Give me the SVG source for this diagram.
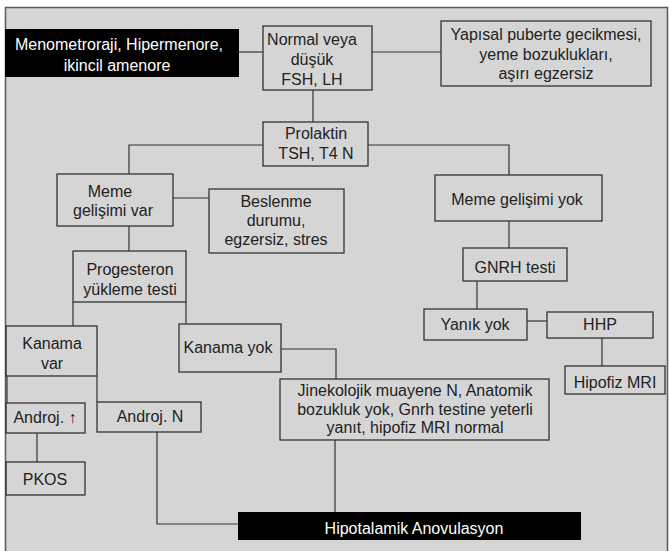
<svg xmlns="http://www.w3.org/2000/svg" width="669" height="551" viewBox="0 0 669 551">
<style>
.bg{fill:#d5d5d5;stroke:#5a5a5a;stroke-width:1.5}
.box{fill:none;stroke:#333;stroke-width:1.3}
.dark{fill:#000;stroke:none}
.t{font-family:"Liberation Sans",Arial,Helvetica,sans-serif;font-size:16px;fill:#222;text-anchor:middle}
.w{fill:#fff}
.c{fill:none;stroke:#333;stroke-width:1.2}
</style>
<rect x="0" y="0" width="669" height="551" fill="#fff"/>
<rect class="bg" x="5.5" y="7.5" width="662" height="545"/>
<g id="connectors">
<path class="c" d="M239 52H263"/>
<path class="c" d="M372 52H441"/>
<path class="c" d="M313 90V122"/>
<path class="c" d="M263 145H129V174"/>
<path class="c" d="M368 145H509V175"/>
<path class="c" d="M173 198H209"/>
<path class="c" d="M129 226V251"/>
<path class="c" d="M73 302V326"/>
<path class="c" d="M186 302V324"/>
<path class="c" d="M7 376V403"/>
<path class="c" d="M97 376V402"/>
<path class="c" d="M37 433V462"/>
<path class="c" d="M157 432V524H238"/>
<path class="c" d="M281 349H336V379"/>
<path class="c" d="M335 440V512"/>
<path class="c" d="M509 221V248"/>
<path class="c" d="M477 281V309"/>
<path class="c" d="M527 321H547"/>
<path class="c" d="M602 338V366"/>
</g>
<g id="menometroraji">
<rect class="dark" x="5" y="29" width="234" height="48"/>
<text class="t w" x="119" y="50">Menometroraji, Hipermenore,</text>
<text class="t w" x="117" y="71">ikincil amenore</text>
</g>
<g id="normal">
<rect class="box" x="263" y="26" width="109" height="64"/>
<text class="t" x="312" y="45">Normal veya</text>
<text class="t" x="312" y="65">düşük</text>
<text class="t" x="312" y="85">FSH, LH</text>
</g>
<g id="yapisal">
<rect class="box" x="441" y="21" width="210" height="65"/>
<text class="t" x="546" y="40">Yapısal puberte gecikmesi,</text>
<text class="t" x="546" y="60">yeme bozuklukları,</text>
<text class="t" x="546" y="79">aşırı egzersiz</text>
</g>
<g id="prolaktin">
<rect class="box" x="263" y="122" width="105" height="44"/>
<text class="t" x="316" y="139">Prolaktin</text>
<text class="t" x="316" y="158.5">TSH, T4 N</text>
</g>
<g id="meme-var">
<rect class="box" x="57" y="174" width="116" height="52"/>
<text class="t" x="110" y="197">Meme</text>
<text class="t" x="113" y="216">gelişimi var</text>
</g>
<g id="beslenme">
<rect class="box" x="209" y="189" width="135" height="64"/>
<text class="t" x="276" y="207">Beslenme</text>
<text class="t" x="276" y="226">durumu,</text>
<text class="t" x="276" y="245">egzersiz, stres</text>
</g>
<g id="progesteron">
<rect class="box" x="73" y="251" width="113" height="51"/>
<text class="t" x="130" y="275">Progesteron</text>
<text class="t" x="130" y="295">yükleme testi</text>
</g>
<g id="meme-yok">
<rect class="box" x="435" y="175" width="167" height="46"/>
<text class="t" x="517" y="205">Meme gelişimi yok</text>
</g>
<g id="gnrh">
<rect class="box" x="463" y="248" width="104" height="33"/>
<text class="t" x="515" y="273">GNRH testi</text>
</g>
<g id="kanama-var">
<rect class="box" x="6" y="326" width="91" height="50"/>
<text class="t" x="52" y="349">Kanama</text>
<text class="t" x="52" y="369">var</text>
</g>
<g id="kanama-yok">
<rect class="box" x="179" y="324" width="102" height="48"/>
<text class="t" x="228" y="353">Kanama yok</text>
</g>
<g id="jinekolojik">
<rect class="box" x="280" y="379" width="269" height="61"/>
<text class="t" x="415" y="396">Jinekolojik muayene N, Anatomik</text>
<text class="t" x="415" y="414.5">bozukluk yok, Gnrh testine yeterli</text>
<text class="t" x="415" y="433">yanıt, hipofiz MRI normal</text>
</g>
<g id="yanik-yok">
<rect class="box" x="424" y="309" width="103" height="31"/>
<text class="t" x="475" y="330">Yanık yok</text>
</g>
<g id="hhp">
<rect class="box" x="547" y="312" width="106" height="26"/>
<text class="t" x="600" y="330">HHP</text>
</g>
<g id="hipofiz">
<rect class="box" x="565" y="366" width="100" height="28"/>
<text class="t" x="615" y="388">Hipofiz MRI</text>
</g>
<g id="androj-up">
<rect class="box" x="6" y="403" width="79" height="30"/>
<text class="t" x="45" y="423">Androj. ↑</text>
</g>
<g id="androj-n">
<rect class="box" x="97" y="402" width="104" height="30"/>
<text class="t" x="150" y="422">Androj. N</text>
</g>
<g id="pkos">
<rect class="box" x="6" y="462" width="79" height="33"/>
<text class="t" x="45" y="485">PKOS</text>
</g>
<g id="hipotalamik">
<rect class="dark" x="238" y="512" width="343" height="28"/>
<text class="t w" x="414" y="534">Hipotalamik Anovulasyon</text>
</g>
</svg>
